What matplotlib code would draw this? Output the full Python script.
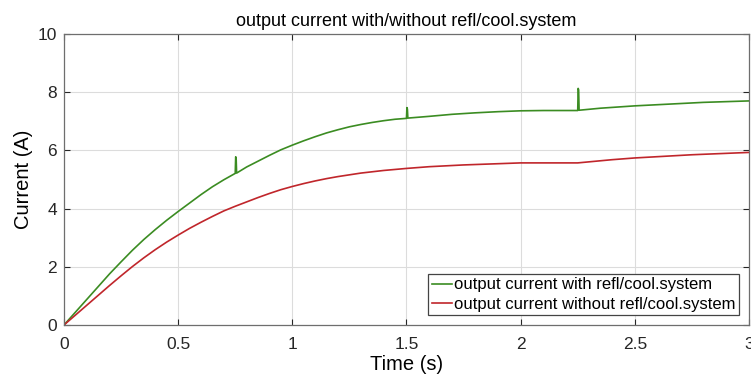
import numpy as np
import matplotlib
matplotlib.use("Agg")
import matplotlib.pyplot as plt

# values
t_with = [0, 0.05, 0.1, 0.15, 0.2, 0.25, 0.3, 0.35, 0.4, 0.45, 0.5, 0.55, 0.6,
          0.65, 0.7, 0.75, 0.8, 0.85, 0.9, 0.95, 1.0, 1.05, 1.1, 1.15, 1.2,
          1.25, 1.3, 1.35, 1.4, 1.45, 1.5, 1.6, 1.7, 1.8, 1.9, 2.0, 2.1, 2.25,
          2.35, 2.5, 2.65, 2.8, 3.0]
i_with = [0, 0.44, 0.88, 1.32, 1.76, 2.17, 2.57, 2.94, 3.28, 3.6, 3.9, 4.19,
          4.48, 4.75, 4.99, 5.21, 5.43, 5.63, 5.83, 6.02, 6.18, 6.33, 6.47,
          6.6, 6.71, 6.81, 6.89, 6.96, 7.02, 7.07, 7.10, 7.17, 7.24, 7.29,
          7.33, 7.36, 7.37, 7.37, 7.45, 7.53, 7.59, 7.65, 7.70]

# switching spikes on the green curve
spike_t = [0.75, 1.5, 2.25]
spike_peak = [5.78, 7.47, 8.13]

t_without = [0, 0.05, 0.1, 0.15, 0.2, 0.25, 0.3, 0.35, 0.4, 0.45, 0.5, 0.55,
             0.6, 0.65, 0.7, 0.75, 0.8, 0.85, 0.9, 0.95, 1.0, 1.05, 1.1, 1.15,
             1.2, 1.3, 1.4, 1.5, 1.6, 1.75, 2.0, 2.25, 2.4, 2.5, 2.75, 3.0]
i_without = [0, 0.34, 0.68, 1.02, 1.36, 1.69, 2.01, 2.31, 2.59, 2.85, 3.09,
             3.32, 3.53, 3.73, 3.92, 4.08, 4.23, 4.38, 4.52, 4.65, 4.76, 4.86,
             4.95, 5.03, 5.1, 5.22, 5.31, 5.38, 5.44, 5.5, 5.57, 5.57, 5.68,
             5.74, 5.85, 5.93]

xticks = [0, 0.5, 1, 1.5, 2, 2.5, 3]
xtick_labels = ["0", "0.5", "1", "1.5", "2", "2.5", "3"]
yticks = [0, 2, 4, 6, 8, 10]

label_with = "output current with refl/cool.system"
label_without = "output current without refl/cool.system"

plt.rcParams["font.family"] = ["Liberation Sans", "DejaVu Sans"]

# insert spikes into the green series
tw = list(t_with)
iw = list(i_with)
for st, sp in zip(spike_t, spike_peak):
    base = float(np.interp(st, t_with, i_with))
    k = next(j for j, v in enumerate(tw) if v > st)
    tw[k:k] = [st + 0.002, st + 0.004, st + 0.006]
    iw[k:k] = [sp, sp - 0.05, base + 0.01]

fig = plt.figure(figsize=(7.51, 3.81), dpi=100)
ax = fig.add_axes([0.0852, 0.147, 0.9121, 0.7638])

ax.plot(tw, iw, color="#3b8c22", lw=1.2, label=label_with)
ax.plot(t_without, i_without, color="#c0262b", lw=1.2, label=label_without)

ax.set_xlim(0, 3)
ax.set_ylim(0, 10)
ax.set_xticks(xticks)
ax.set_xticklabels(xtick_labels)
ax.set_yticks(yticks)
ax.grid(True, color="#dcdcdc", lw=0.8)
ax.set_axisbelow(True)
ax.tick_params(direction="in", top=True, right=True, labelsize=12.5,
               colors="#262626", length=4)
ax.tick_params(axis="x", pad=9)
ax.tick_params(axis="y", pad=5)
for s in ax.spines.values():
    s.set_color("#6e6e6e")
    s.set_linewidth(0.9)

ax.set_title("output current with/without refl/cool.system", fontsize=13, pad=6)
ax.set_xlabel("Time (s)", fontsize=14.5, labelpad=2)
ax.set_ylabel("Current (A)", fontsize=14.5, labelpad=3)

leg = ax.legend(loc="lower right", fontsize=12, handlelength=1.2, handletextpad=0.15,
                borderpad=0.2, labelspacing=0.25, fancybox=False, framealpha=1,
                borderaxespad=0.6, edgecolor="#444444")
leg.get_frame().set_linewidth(0.9)

fig.savefig("out.png", dpi=100)
